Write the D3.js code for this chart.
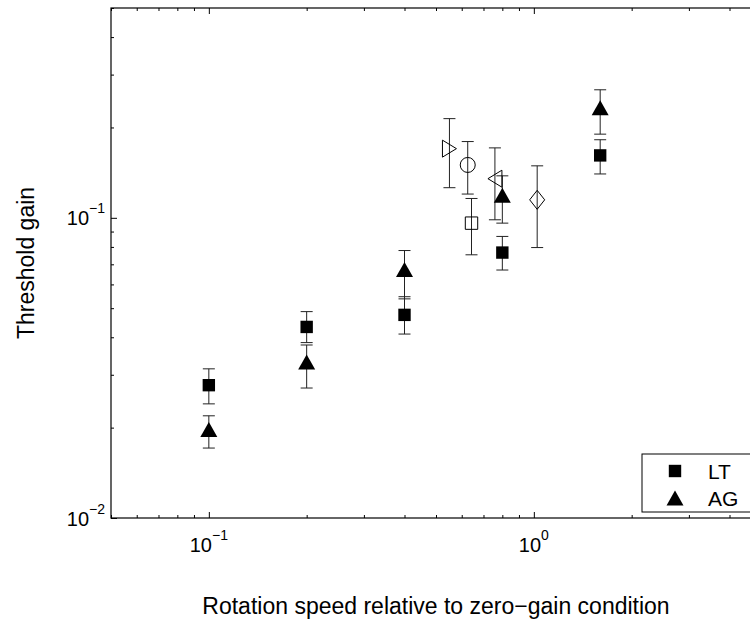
<!DOCTYPE html>
<html>
<head>
<meta charset="utf-8">
<script src="https://cdn.jsdelivr.net/npm/d3@7"></script>
<style>
  html, body { margin: 0; padding: 0; background: #fff; }
  svg { display: block; font-family: "Liberation Sans", Arial, Helvetica, sans-serif; }
</style>
</head>
<body>
<svg id="chart" width="750" height="620"></svg>
<script>
// ---- data ----
const speeds   = [0.1, 0.2, 0.4, 0.8, 1.6];
const ltValues = [0.0277, 0.0433, 0.0475, 0.0766, 0.1614];
const ltLow    = [0.0240, 0.0384, 0.0410, 0.0670, 0.1400];
const ltHigh   = [0.0314, 0.0487, 0.0546, 0.0867, 0.1820];
const agValues = [0.0197, 0.0331, 0.0673, 0.1190, 0.2327];
const agLow    = [0.0171, 0.0271, 0.0537, 0.0960, 0.1900];
const agHigh   = [0.0219, 0.0377, 0.0778, 0.1380, 0.2670];

const otherX     = [0.550, 0.626, 0.643, 0.759, 1.024];
const otherY     = [0.170, 0.150, 0.096, 0.135, 0.1148];
const otherLow   = [0.126, 0.120, 0.0753, 0.0985, 0.0796];
const otherHigh  = [0.214, 0.1795, 0.116, 0.171, 0.149];
const otherShape = ["tri-right", "circle", "square", "tri-left", "diamond"];

const xMajorTicks = [0.1, 1];
const xMajorLabels = ["−1", "0"];
const yMajorTicks = [0.01, 0.1];
const yMajorLabels = ["−2", "−1"];
const legendLabels = ["LT", "AG"];
const xTitle = "Rotation speed relative to zero−gain condition";
const yTitle = "Threshold gain";

// ---- layout ----
const L = 111, R = 761, T = 8, B = 518;
const svg = d3.select("#chart");
const x = d3.scaleLog().domain([0.05, 5]).range([L, R]);
const y = d3.scaleLog().domain([0.01, 0.5]).range([B, T]);

const xMinor = x.ticks().filter(v => !xMajorTicks.some(m => Math.abs(m - v) < 1e-9));
const yMinor = y.ticks().filter(v => !yMajorTicks.some(m => Math.abs(m - v) < 1e-9));

function styleAxis(g) {
  g.select(".domain").remove();
  g.selectAll(".tick line").attr("stroke", "#000").attr("stroke-width", 1);
}
// minor + major ticks, all four sides, pointing inward
svg.append("g").attr("transform", `translate(0,${B})`)
  .call(d3.axisBottom(x).tickValues(xMinor).tickSize(-3).tickFormat("")).call(styleAxis);
svg.append("g").attr("transform", `translate(0,${B})`)
  .call(d3.axisBottom(x).tickValues(xMajorTicks).tickSize(-6).tickFormat("")).call(styleAxis);
svg.append("g").attr("transform", `translate(0,${T})`)
  .call(d3.axisTop(x).tickValues(xMinor).tickSize(-3).tickFormat("")).call(styleAxis);
svg.append("g").attr("transform", `translate(0,${T})`)
  .call(d3.axisTop(x).tickValues(xMajorTicks).tickSize(-6).tickFormat("")).call(styleAxis);
svg.append("g").attr("transform", `translate(${L},0)`)
  .call(d3.axisLeft(y).tickValues(yMinor).tickSize(-3).tickFormat("")).call(styleAxis);
svg.append("g").attr("transform", `translate(${L},0)`)
  .call(d3.axisLeft(y).tickValues(yMajorTicks).tickSize(-6).tickFormat("")).call(styleAxis);
svg.append("g").attr("transform", `translate(${R},0)`)
  .call(d3.axisRight(y).tickValues(yMinor).tickSize(-3).tickFormat("")).call(styleAxis);
svg.append("g").attr("transform", `translate(${R},0)`)
  .call(d3.axisRight(y).tickValues(yMajorTicks).tickSize(-6).tickFormat("")).call(styleAxis);

// axes box
svg.append("rect").attr("x", L).attr("y", T).attr("width", R - L).attr("height", B - T)
  .attr("fill", "none").attr("stroke", "#000").attr("stroke-width", 1.2);

// tick labels with superscripts
xMajorTicks.forEach((v, i) => {
  const t = svg.append("text").attr("x", x(v)).attr("y", 552)
    .attr("text-anchor", "middle").attr("font-size", 20).attr("fill", "#000");
  t.append("tspan").text("10");
  t.append("tspan").attr("dy", -12).attr("font-size", 14).text(xMajorLabels[i]);
});
yMajorTicks.forEach((v, i) => {
  const t = svg.append("text").attr("x", 105).attr("y", y(v) + 7.5)
    .attr("text-anchor", "end").attr("font-size", 20).attr("fill", "#000");
  t.append("tspan").text("10");
  t.append("tspan").attr("dy", -12).attr("font-size", 14).text(yMajorLabels[i]);
});

// axis titles
svg.append("text").attr("x", (L + R) / 2).attr("y", 614).attr("text-anchor", "middle")
  .attr("font-size", 23).attr("fill", "#000").text(xTitle);
svg.append("text").attr("transform", `translate(34,${(T + B) / 2}) rotate(-90)`)
  .attr("text-anchor", "middle").attr("font-size", 23).attr("fill", "#000").text(yTitle);

// marker shapes
function shapePath(kind) {
  switch (kind) {
    case "square": return "M-6.2,-6.2H6.2V6.2H-6.2Z";
    case "tri-up": return "M0,-7.5L8.5,7.5L-8.5,7.5Z";
    case "tri-right": return "M7,0L-7,-8.5L-7,8.5Z";
    case "tri-left": return "M-7,0L7,-8.5L7,8.5Z";
    case "diamond": return "M0,-9.5L7.5,0L0,9.5L-7.5,0Z";
    case "circle": return d3.arc()({innerRadius: 0, outerRadius: 7.5, startAngle: 0, endAngle: 2 * Math.PI});
  }
}

function errorBars(g, xs, lows, highs) {
  const cap = 6;
  xs.forEach((xv, i) => {
    const cx = x(xv), y0 = y(lows[i]), y1 = y(highs[i]);
    g.append("line").attr("x1", cx).attr("x2", cx).attr("y1", y0).attr("y2", y1);
    g.append("line").attr("x1", cx - cap).attr("x2", cx + cap).attr("y1", y0).attr("y2", y0);
    g.append("line").attr("x1", cx - cap).attr("x2", cx + cap).attr("y1", y1).attr("y2", y1);
  });
}

const eg = svg.append("g").attr("stroke", "#222").attr("stroke-width", 1);
errorBars(eg, speeds, ltLow, ltHigh);
errorBars(eg, speeds, agLow, agHigh);
errorBars(eg, otherX, otherLow, otherHigh);

// open markers
svg.append("g").selectAll("path").data(otherX).join("path")
  .attr("transform", (d, i) => `translate(${x(d)},${y(otherY[i])})`)
  .attr("d", (d, i) => shapePath(otherShape[i]))
  .attr("fill", "none").attr("stroke", "#000").attr("stroke-width", 1);

// filled LT squares
svg.append("g").selectAll("path").data(speeds).join("path")
  .attr("transform", (d, i) => `translate(${x(d)},${y(ltValues[i])})`)
  .attr("d", shapePath("square")).attr("fill", "#000");
// filled AG triangles
svg.append("g").selectAll("path").data(speeds).join("path")
  .attr("transform", (d, i) => `translate(${x(d)},${y(agValues[i])})`)
  .attr("d", shapePath("tri-up")).attr("fill", "#000");

// legend
const lg = svg.append("g");
lg.append("rect").attr("x", 642).attr("y", 454).attr("width", 140).attr("height", 58)
  .attr("fill", "#fff").attr("stroke", "#000").attr("stroke-width", 1);
lg.append("path").attr("transform", "translate(675,471)").attr("d", shapePath("square")).attr("fill", "#000");
lg.append("path").attr("transform", "translate(675,498)").attr("d", shapePath("tri-up")).attr("fill", "#000");
lg.append("text").attr("x", 708).attr("y", 478.5).attr("font-size", 21).text(legendLabels[0]);
lg.append("text").attr("x", 708).attr("y", 505.5).attr("font-size", 21).text(legendLabels[1]);
</script>
</body>
</html>
